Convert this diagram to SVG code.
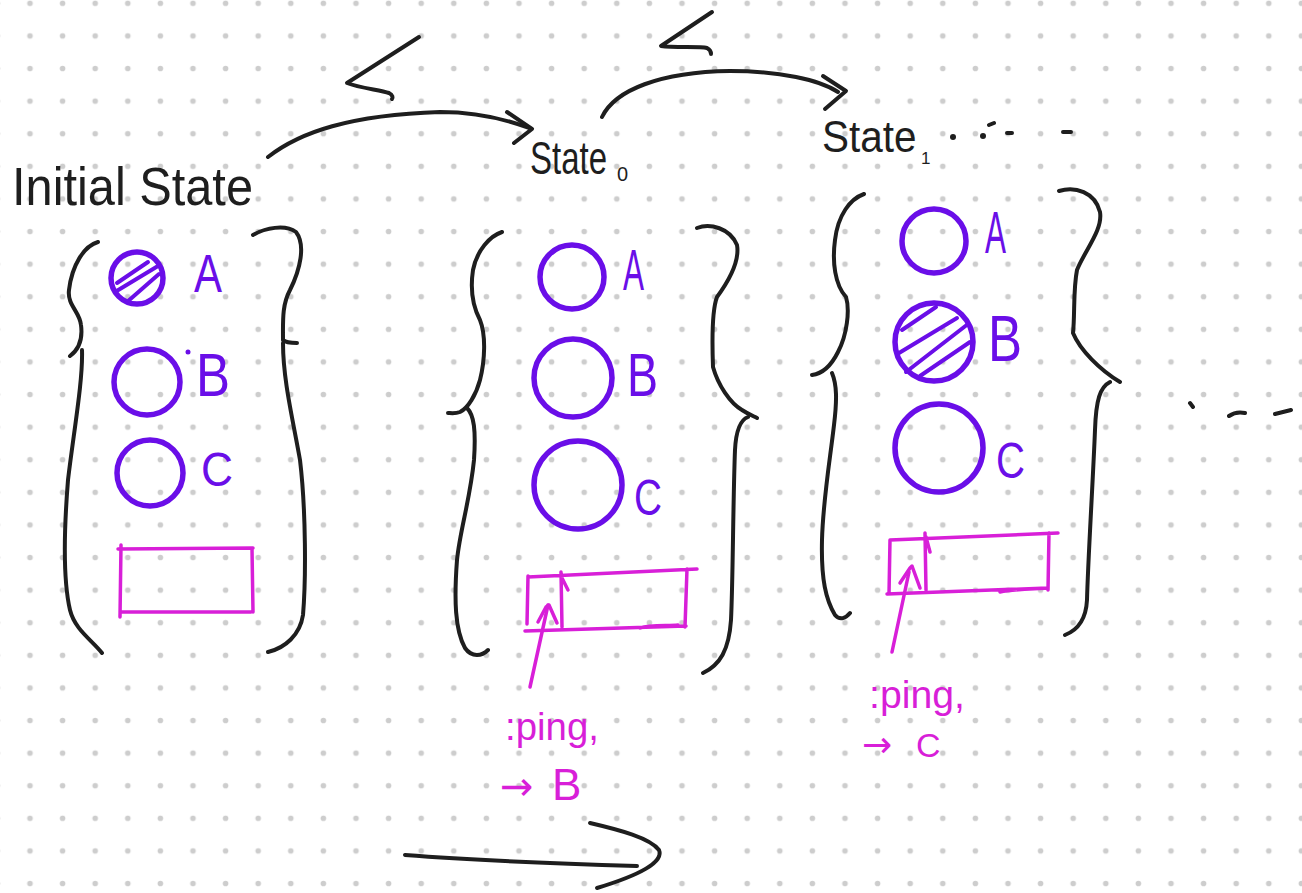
<svg xmlns="http://www.w3.org/2000/svg" width="1302" height="893" viewBox="0 0 1302 893">
  <style>
    .ink { fill: none; stroke: #1e1e1e; stroke-width: 4; stroke-linecap: round; stroke-linejoin: round; }
    .vio { fill: none; stroke: #6a0ee8; stroke-width: 5.5; stroke-linecap: round; stroke-linejoin: round; }
    .vio-thin { fill: none; stroke: #6a0ee8; stroke-width: 4; stroke-linecap: round; }
    .mag { fill: none; stroke: #d81fd8; stroke-width: 3.5; stroke-linecap: round; stroke-linejoin: round; }
    .hdr { font-family: "Liberation Sans", Arial, sans-serif; fill: #1e1e1e; }
    .lbl { font-family: "Liberation Sans", Arial, sans-serif; fill: #6a0ee8; }
    .note { font-family: "Liberation Sans", Arial, sans-serif; fill: #d81fd8; }
    .arr { font-family: "DejaVu Sans", sans-serif; }
  </style>
  <defs>
    <pattern id="dots" patternUnits="userSpaceOnUse" x="13.7" y="-13" width="32.6" height="32.6">
      <circle cx="16.3" cy="16.3" r="2.8" fill="#cdcdcd"/>
    </pattern>
  </defs>

  <!-- dotted paper -->
  <rect width="1302" height="893" fill="#ffffff"/>
  <rect width="1302" height="893" fill="url(#dots)"/>

  <!-- transitions between states -->
  <g id="connectors">
    <!-- Initial State -> State0 -->
    <path class="ink" d="M268,157 C300,132 350,115 440,112 C475,112 505,119 529,128"/>
    <path class="ink" d="M507,112 L532,129 L514,143"/>
    <path class="ink" d="M419,37 L347,83 C360,88 380,90 389,93 C393,95 393,98 392,99"/>
    <!-- State0 -> State1 -->
    <path class="ink" d="M602,117 C615,90 660,72 730,71 C780,71 820,80 838,92"/>
    <path class="ink" d="M823,76 L846,91 L825,109"/>
    <path class="ink" d="M712,12 L661,46 C675,48 700,46 707,48 C711,50 711,53 711,54"/>
    <!-- bottom arrow -->
    <path class="ink" d="M405,855 C470,860 570,864 637,866"/>
    <path class="ink" d="M590,823 C620,830 650,838 659,850 C664,862 640,875 597,888"/>
    <!-- event pointers into the queue -->
    <path class="mag" d="M530,687 L548,605"/>
    <path class="mag" d="M892,652 L909,572"/>
  </g>

  <!-- Initial State -->
  <g id="node-initial">
    <text class="hdr" x="12" y="205" font-size="54" textLength="241" lengthAdjust="spacingAndGlyphs">Initial State</text>
    <path class="ink" d="M98,242 C84,246 72,265 69,290 C67,305 80,312 81,325 C83,340 78,350 70,356"/>
    <path class="ink" d="M82,350 C83,380 74,430 68,480 C64,530 63,580 70,610 C75,630 92,640 102,653"/>
    <path class="ink" d="M253,235 C265,228 285,224 296,232 C306,245 300,270 290,290 C282,305 283,320 283,340 C286,343 292,343 297,343"/>
    <path class="ink" d="M283,343 C283,380 293,420 300,460 C306,510 306,580 303,615 C300,635 285,648 268,652"/>

    <circle class="vio" cx="137" cy="278" r="26"/>
    <path class="vio-thin" d="M117,283 L148,262 M115,292 L158,266 M127,302 L159,274"/>
    <text class="lbl" x="194" y="292" font-size="54" textLength="28" lengthAdjust="spacingAndGlyphs">A</text>

    <circle class="vio" cx="147" cy="382" r="33"/>
    <circle cx="188" cy="352" r="2.5" fill="#6a0ee8"/>
    <text class="lbl" x="196" y="396" font-size="62" textLength="34" lengthAdjust="spacingAndGlyphs">B</text>

    <circle class="vio" cx="150" cy="473" r="33"/>
    <text class="lbl" x="201" y="486" font-size="48" textLength="32" lengthAdjust="spacingAndGlyphs">C</text>

    <path class="mag" d="M118,549 L253,548 M252,549 L253,612 M121,612 L251,612 M121,545 L120,617"/>
  </g>

  <!-- State 0 -->
  <g id="node-state0">
    <text class="hdr" transform="matrix(1,0,0,1.38,530,174)" font-size="33">State</text>
    <text class="hdr" x="617" y="181" font-size="20">0</text>
    <path class="ink" d="M502,232 C490,236 477,250 473,270 C470,290 472,305 480,320 C486,335 485,360 480,380 C476,395 468,408 460,412 C455,414 450,413 448,413"/>
    <path class="ink" d="M467,408 C474,415 476,430 474,460 C470,500 460,530 457,560 C454,600 455,630 465,648 C472,658 482,656 488,650"/>
    <path class="ink" d="M697,228 C710,223 730,228 737,245 C740,262 728,282 717,297 C712,310 712,340 713,367 C718,385 730,403 742,410 C748,414 753,416 757,418"/>
    <path class="ink" d="M748,417 C740,420 736,430 735,450 C733,500 733,580 731,620 C729,650 720,665 703,673"/>

    <circle class="vio" cx="572" cy="277" r="32"/>
    <text class="lbl" x="623" y="290" font-size="58" textLength="21" lengthAdjust="spacingAndGlyphs">A</text>
    <circle class="vio" cx="573" cy="378" r="39"/>
    <text class="lbl" x="627" y="396" font-size="62" textLength="31" lengthAdjust="spacingAndGlyphs">B</text>
    <circle class="vio" cx="578" cy="485" r="44" stroke-width="6"/>
    <text class="lbl" x="634" y="515" font-size="50" textLength="28" lengthAdjust="spacingAndGlyphs">C</text>

    <path class="mag" d="M528,577 L697,569 M687,569 L685,627 M525,631 L686,626 M528,576 L527,624 M561,572 L562,627 M562,578 L568,590 M640,628 C650,625 668,626 678,625"/>
    <path class="mag" d="M538,622 L546,607 L549,605 L557,623"/>
    <text class="note" x="505" y="740" font-size="38" textLength="94" lengthAdjust="spacingAndGlyphs">:ping,</text>
    <text class="note" x="500" y="800" font-size="44"><tspan class="arr" font-size="40">→</tspan><tspan x="552">B</tspan></text>
  </g>

  <!-- State 1 -->
  <g id="node-state1">
    <text class="hdr" transform="matrix(1,0,0,1.1,822,152)" font-size="40.5">State</text>
    <text class="hdr" x="921" y="164" font-size="17">1</text>
    <path class="ink" d="M864,194 C850,199 838,215 835,240 C832,262 835,285 846,297 C850,310 847,335 838,352 C830,368 820,374 812,375"/>
    <path class="ink" d="M832,373 C837,385 837,400 834,425 C830,460 823,500 822,540 C821,580 826,600 835,615 C840,621 846,618 850,613"/>
    <path class="ink" d="M1059,191 C1075,186 1095,192 1100,212 C1103,230 1085,250 1077,270 C1073,290 1075,315 1073,333 C1080,350 1100,370 1120,382"/>
    <path class="ink" d="M1110,382 C1100,387 1096,400 1095,430 C1093,480 1088,560 1087,600 C1086,620 1078,630 1065,635"/>

    <circle class="vio" cx="934" cy="241" r="32"/>
    <text class="lbl" x="985" y="253" font-size="60" textLength="21" lengthAdjust="spacingAndGlyphs">A</text>
    <circle class="vio" cx="934" cy="342" r="39"/>
    <path class="vio-thin" d="M902,330 L936,307 M899,353 L957,318 M906,372 L968,324 M920,376 L970,342"/>
    <text class="lbl" x="988" y="361" font-size="64" textLength="34" lengthAdjust="spacingAndGlyphs">B</text>
    <circle class="vio" cx="939" cy="448" r="44" stroke-width="6"/>
    <text class="lbl" x="996" y="478" font-size="50" textLength="29" lengthAdjust="spacingAndGlyphs">C</text>

    <path class="mag" d="M890,540 L1058,533 M1049,533 L1048,590 M887,594 L1048,588 M890,540 L889,594 M925,533 L926,590 M926,537 L930,552 M1000,592 C1015,589 1035,589 1047,588"/>
    <path class="mag" d="M900,583 L910,568 L912,566 L920,588"/>
    <text class="note" x="869" y="708" font-size="38" textLength="96" lengthAdjust="spacingAndGlyphs">:ping,</text>
    <text class="note" x="862" y="757" font-size="34"><tspan class="arr" font-size="36">→</tspan><tspan x="916">C</tspan></text>
  </g>

  <!-- trailing marks for further states -->
  <g id="continuation">
    <circle cx="953" cy="137" r="3" fill="#1e1e1e"/>
    <circle cx="983" cy="136" r="3" fill="#1e1e1e"/>
    <path class="ink" d="M989,125 L994,123 M1007,133 L1012,133 M1063,132 L1071,132" stroke-width="3"/>
    <path class="ink" d="M1190,403 L1193,407 M1229,416 Q1236,411 1245,413 M1275,414 L1291,410" stroke-width="3.5"/>
  </g>
</svg>
